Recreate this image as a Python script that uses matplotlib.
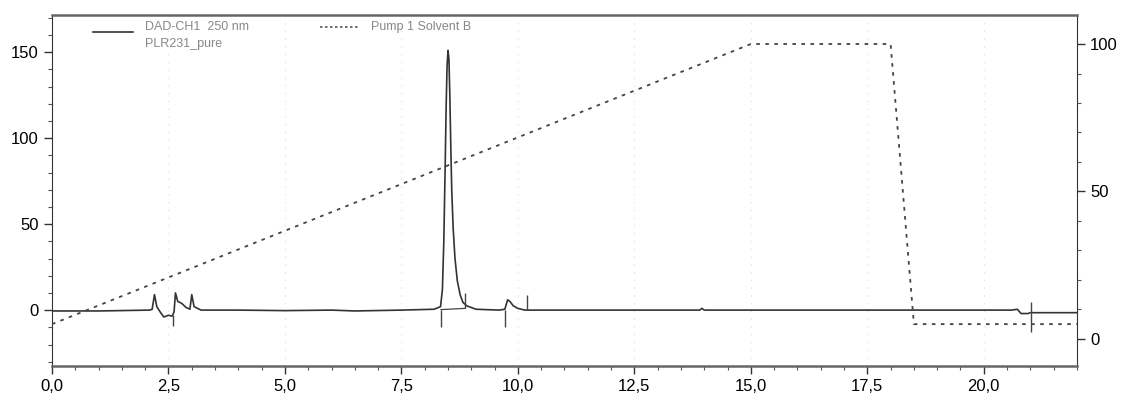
import matplotlib.pyplot as plt
from matplotlib.ticker import MultipleLocator, FuncFormatter

# DAD-CH1 250 nm trace (time in min, signal in mAU)
trace_time = [0.0, 1.0, 2.1, 2.15, 2.2, 2.25, 2.32, 2.4, 2.5, 2.58, 2.62, 2.65, 2.7,
              2.78, 2.88, 2.96, 3.0, 3.05, 3.2, 4.0, 5.0, 6.0, 6.5, 7.5, 8.2, 8.34,
              8.38, 8.41, 8.44, 8.46, 8.48, 8.5, 8.52, 8.54, 8.56, 8.58, 8.61, 8.65,
              8.7, 8.76, 8.82, 8.9, 9.0, 9.1,
              9.6, 9.72, 9.78, 9.83, 9.9, 10.0, 10.15, 10.3, 12.0, 13.9, 13.95, 14.0,
              16.0, 18.0, 20.6, 20.72, 20.8, 20.95, 21.0, 21.05, 22.0]
trace_signal = [-0.5, -0.5, 0.0, 0.5, 9.0, 2.0, -1.0, -4.0, -3.0, -3.5, -1.0, 10.0, 5.0,
                4.0, 1.5, 0.5, 9.0, 2.0, 0.0, 0.0, -0.3, 0.0, -0.5, 0.0, 0.5, 2.0,
                12.0, 40.0, 85.0, 118.0, 142.0, 151.0, 146.0, 124.0, 95.0, 70.0, 48.0, 30.0,
                17.0, 9.0, 4.5, 2.5, 1.5, 0.5,
                0.0, 0.5, 6.0, 5.0, 2.5, 1.0, 0.0, 0.0, 0.0, 0.0, 1.0, 0.0,
                0.0, 0.0, 0.0, 0.5, -2.0, -2.0, -1.5, -1.5, -1.5]

# integration delimiter ticks: time, start, end (mAU)
marker_time = [2.6, 8.35, 8.87, 9.72, 10.2, 21.02]
marker_start = [-3.0, 0.0, 1.0, 0.0, 0.0, 5.0]
marker_end = [-9.0, -10.0, 10.0, -10.0, 9.0, -13.0]

# Pump 1 Solvent B gradient (%)
pump_time = [0.0, 15.0, 18.0, 18.5, 22.0]
pump_b = [5.0, 100.0, 100.0, 5.0, 5.0]

legend_labels = ["DAD-CH1  250 nm", "PLR231_pure", "Pump 1 Solvent B"]

plt.rcParams['font.family'] = ['Liberation Sans', 'DejaVu Sans']

fig = plt.figure(figsize=(11.23, 3.98), dpi=100)
ax = fig.add_axes([0.0463, 0.0804, 0.9127, 0.8816])

ax.plot(trace_time, trace_signal, color='#333333', lw=1.2, zorder=3)
ax.vlines(marker_time, marker_start, marker_end, color='#444444', lw=1.0, zorder=3)
# peak baseline
ax.plot([8.35, 8.87], [0.3, 1.0], color='#444444', lw=0.9, zorder=3)

ax.set_xlim(0, 22.0)
ax.set_ylim(-32.5, 171.5)
ax.xaxis.set_major_locator(MultipleLocator(2.5))
ax.xaxis.set_minor_locator(MultipleLocator(0.5))
ax.yaxis.set_major_locator(MultipleLocator(50))
ax.yaxis.set_minor_locator(MultipleLocator(10))
ax.xaxis.set_major_formatter(FuncFormatter(lambda v, p: f"{v:.1f}".replace('.', ',')))
ax.tick_params(which='major', length=6, width=1.0, labelsize=12, color='#333333')
ax.tick_params(which='minor', length=3, width=0.8, color='#555555')

for x in [2.5, 5.0, 7.5, 10.0, 12.5, 15.0, 17.5, 20.0]:
    ax.axvline(x, color='#dddddd', lw=0.8, ls=(0, (1, 6)), zorder=1)

ax.spines['top'].set_color('#666666')
ax.spines['top'].set_linewidth(1.8)
ax.spines['bottom'].set_color('#666666')
ax.spines['bottom'].set_linewidth(1.8)
ax.spines['left'].set_color('#333333')
ax.spines['right'].set_color('#333333')

ax2 = ax.twinx()
ax2.plot(pump_time, pump_b, color='#444444', lw=1.3, ls=(0, (2, 3)), zorder=2)
ax2.set_ylim(-9.2, 109.8)
ax2.yaxis.set_major_locator(MultipleLocator(50))
ax2.yaxis.set_minor_locator(MultipleLocator(10))
ax2.tick_params(which='major', length=6, width=1.0, labelsize=12, color='#333333')
ax2.tick_params(which='minor', length=3, width=0.8, color='#555555')
for s in ax2.spines.values():
    s.set_visible(False)

# legend drawn as text like the instrument software
ax.plot([0.88, 1.74], [161.5, 161.5], color='#333333', lw=1.2)
ax.text(2.0, 164.5, legend_labels[0], fontsize=9, color='#888888', va='center')
ax.text(2.0, 154.5, legend_labels[1], fontsize=9, color='#888888', va='center')
ax.plot([5.75, 6.6], [164.5, 164.5], color='#555555', lw=1.2, ls=(0, (1.5, 1.5)))
ax.text(6.85, 164.5, legend_labels[2], fontsize=9, color='#888888', va='center')

fig.savefig("out.png", dpi=100)
